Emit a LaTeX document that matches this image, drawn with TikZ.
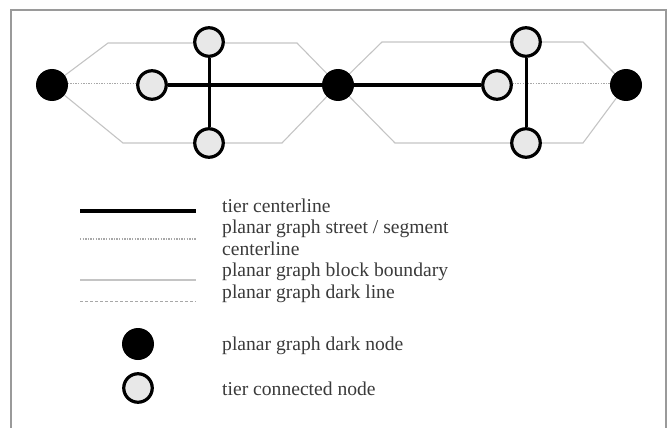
\documentclass[tikz,border=0pt]{standalone}
\usepackage{fontspec}
\setmainfont{Liberation Serif}
\definecolor{framegray}{HTML}{9A9A9A}
\definecolor{blockgray}{HTML}{C4C4C4}
\definecolor{streetgray}{HTML}{A8A8A8}
\definecolor{nodefill}{HTML}{E8E8E8}
\definecolor{labelgray}{HTML}{3A3A3A}
\tikzset{
  darknode/.style={circle, fill=black, minimum size=32pt, inner sep=0pt},
  tiernode/.style={circle, draw=black, line width=3.2pt, fill=nodefill, minimum size=28.5pt, inner sep=0pt},
  tierline/.style={black, line width=3.6pt},
  tierstem/.style={black, line width=3pt},
  streetline/.style={streetgray, line width=1.4pt, dash pattern=on 1.3pt off 1.3pt},
  blockline/.style={blockgray, line width=1.1pt},
  darkline/.style={streetgray, line width=1pt, dash pattern=on 3pt off 2pt},
  legendtext/.style={anchor=base west, inner sep=0pt, text=labelgray, font=\fontsize{19.6}{21.5}\selectfont}
}
\begin{document}
\begin{tikzpicture}[x=1pt, y=-1pt]
\useasboundingbox (0,0) rectangle (667,428);
% open frame
\draw[framegray, line width=1.6pt] (11,428) -- (11,10) -- (666,10) -- (666,428);

% planar graph node positions
\coordinate (d1) at (52,85);
\coordinate (d2) at (338,85);
\coordinate (d3) at (626,85);

% block boundaries
\draw[blockline] (d1) -- (108,43) -- (297,43) -- (d2) -- (282,143) -- (123,143) -- cycle;
\draw[blockline] (d2) -- (382,42) -- (583,42) -- (d3) -- (583,143) -- (395,143) -- cycle;

% street / segment centerline
\draw[streetline] ([yshift=1.5pt]d1) -- ([yshift=1.5pt]d3);

% tier nodes
\node[tiernode] (t1) at (152,85) {};
\node[tiernode] (t1a) at (209,42) {};
\node[tiernode] (t1b) at (209,143) {};
\node[tiernode] (t2) at (497,85) {};
\node[tiernode] (t2a) at (526,42) {};
\node[tiernode] (t2b) at (526,143) {};

% tier centerlines
\draw[tierline] (t1) -- (d2) -- (t2);
\draw[tierstem] (t1a) -- (t1b);
\draw[tierstem] (t2a) -- (t2b);

% dark nodes
\node[darknode] (n1) at (d1) {};
\node[darknode] (n2) at (d2) {};
\node[darknode] (n3) at (d3) {};

% legend
\coordinate (la) at (80,211);  \coordinate (lb) at (196,211);
\coordinate (lc) at (80,239);  \coordinate (ld) at (196,239);
\coordinate (le) at (80,280);  \coordinate (lf) at (196,280);
\coordinate (lg) at (80,301);  \coordinate (lh) at (196,301);
\draw[tierline, line width=4pt] (la) -- (lb);
\draw[streetline] (lc) -- (ld);
\draw[blockline] (le) -- (lf);
\draw[darkline] (lg) -- (lh);
\node[darknode] (kd) at (138,344) {};
\node[tiernode] (kt) at (138,388) {};

\node[legendtext] (tx1) at (222,212) {tier centerline};
\node[legendtext] (tx2) at (222,233.5) {planar graph street / segment};
\node[legendtext] (tx3) at (222,255) {centerline};
\node[legendtext] (tx4) at (222,276.5) {planar graph block boundary};
\node[legendtext] (tx5) at (222,298) {planar graph dark line};
\node[legendtext] (tx6) at (222,350) {planar graph dark node};
\node[legendtext] (tx7) at (222,395) {tier connected node};
\end{tikzpicture}
\end{document}
